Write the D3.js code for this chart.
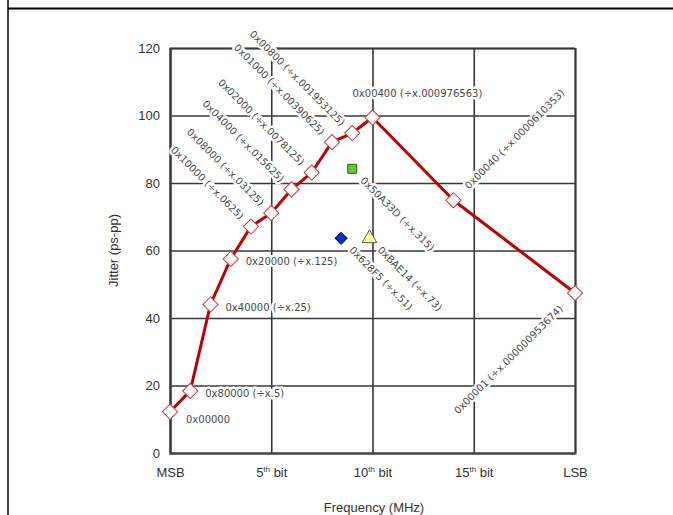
<!DOCTYPE html>
<html>
<head>
<meta charset="utf-8">
<script src="https://cdn.jsdelivr.net/npm/d3@7"></script>
<style>
  body { margin: 0; background: #fff; }
  svg { display: block; }
</style>
</head>
<body>
<div id="chart"></div>
<script>
// bit position (0 = MSB, 20 = LSB) and measured jitter for the divider sweep
const bits = [0, 1, 2, 3, 4, 5, 6, 7, 8, 9, 10, 14, 20];
const jitter = [12.2, 18.4, 44, 57.5, 67.1, 71.1, 78.1, 83.1, 92.1, 94.8, 99.4, 74.9, 47.4];
const codes = ["0x00000", "0x80000 (÷x.5)", "0x40000 (÷x.25)", "0x20000 (÷x.125)",
    "0x10000 (÷x.0625)", "0x08000 (÷x.03125)", "0x04000 (÷x.015625)", "0x02000 (÷x.0078125)",
    "0x01000 (÷x.00390625)", "0x00800 (÷x.001953125)", "0x00400 (÷x.000976563)",
    "0x00040 (÷x.0000610353)", "0x00001 (÷x.000000953674)"];

// the three odd divider settings plotted on their own
const extraNames = ["0x50A33D (÷x.315)", "0x628F5 (÷x.51)", "0xBAE14 (÷x.73)"];
const extraBits = [9.0, 8.45, 9.85];
const extraJitter = [84.2, 63.6, 63.6];

const xTicks = [0, 5, 10, 15, 20];
const xTickText = ["MSB", "5th bit", "10th bit", "15th bit", "LSB"];
const yTicks = [0, 20, 40, 60, 80, 100, 120];

const width = 673;
const height = 515;
const margin = { top: 48, right: 98, bottom: 64, left: 170 };

const svg = d3.select("#chart")
    .append("svg")
    .attr("width", width)
    .attr("height", height);

// page frame
svg.append("line").attr("x1", 8).attr("x2", width).attr("y1", 8.5).attr("y2", 8.5)
    .attr("stroke", "#000").attr("stroke-width", 2);
svg.append("line").attr("x1", 8).attr("x2", 8).attr("y1", 0).attr("y2", height)
    .attr("stroke", "#000").attr("stroke-width", 1.5);

const x = d3.scaleLinear()
    .domain([0, 20])
    .range([margin.left, width - margin.right]);

const y = d3.scaleLinear()
    .domain([0, 120])
    .range([height - margin.bottom + 2, margin.top]);

const innerW = x(20) - x(0);
const innerH = y(0) - y(120);

// y axis + horizontal grid
const gy = svg.append("g")
    .attr("transform", `translate(${x(0)},0)`)
    .call(d3.axisLeft(y).tickValues(yTicks).tickSize(-innerW).tickPadding(10).tickFormat(d3.format("d")));

// x axis + vertical grid
const gx = svg.append("g")
    .attr("transform", `translate(0,${y(0)})`)
    .call(d3.axisBottom(x).tickValues(xTicks).tickSize(-innerH).tickPadding(15).tickFormat(""));

[gx, gy].forEach(g => {
    g.select(".domain").attr("stroke", "#4a4a4a").attr("stroke-width", 2);
    g.selectAll(".tick line").attr("stroke", "#383838").attr("stroke-width", 1.6);
    g.selectAll(".tick text")
        .attr("font-family", "Liberation Sans, Arial, sans-serif")
        .attr("font-size", 13)
        .attr("fill", "#333");
});

// bit labels with superscript ordinals
gx.selectAll(".tick text").each(function(d, i) {
    const t = d3.select(this);
    const m = xTickText[i].match(/^(\d+)(th)(.*)$/);
    if (!m) { t.text(xTickText[i]); return; }
    t.append("tspan").text(m[1]);
    t.append("tspan").attr("font-size", 8).attr("dy", -5).text(m[2]);
    t.append("tspan").attr("dy", 5).text(m[3]);
});

// axis titles
svg.append("text")
    .attr("transform", `translate(118,${(y(0) + y(120)) / 2}) rotate(-90)`)
    .attr("text-anchor", "middle")
    .attr("font-family", "Liberation Sans, Arial, sans-serif")
    .attr("font-size", 13)
    .attr("fill", "#333")
    .text("Jitter (ps-pp)");

svg.append("text")
    .attr("x", 374)
    .attr("y", 512)
    .attr("text-anchor", "middle")
    .attr("font-family", "Liberation Sans, Arial, sans-serif")
    .attr("font-size", 13)
    .attr("fill", "#333")
    .text("Frequency (MHz)");

// point labels: how each one sits relative to its marker
function placeLabel(name, px, py) {
    if (name.startsWith("0x00000")) return { x: px + 16, y: py + 8, rot: 0, anchor: "start" };
    if (name.startsWith("0x00400")) return { x: px - 20, y: py - 24, rot: 0, anchor: "start" };
    if (name.startsWith("0x00040")) return { x: px + 13, y: py - 13, rot: -45, anchor: "start" };
    if (name.startsWith("0x00001")) return { x: px - 14, y: py + 14, rot: -45, anchor: "end" };
    if (/^0x(80000|40000|20000)/.test(name)) return { x: px + 15, y: py + 3, rot: 0, anchor: "start" };
    return { x: px - 9, y: py - 9, rot: 45, anchor: "end" };
}

const labelData = bits.map((b, i) => ({ name: codes[i], ...placeLabel(codes[i], x(b), y(jitter[i])) }))
    .concat(extraBits.map((b, i) => ({ name: extraNames[i], x: x(b) + 10, y: y(extraJitter[i]) + 10, rot: 45, anchor: "start" })));

svg.append("g")
    .selectAll("text")
    .data(labelData)
    .enter().append("text")
    .attr("transform", d => `translate(${d.x},${d.y}) rotate(${d.rot})`)
    .attr("text-anchor", d => d.anchor)
    .attr("dominant-baseline", "central")
    .attr("font-family", "DejaVu Sans, sans-serif")
    .attr("font-size", 10)
    .attr("fill", "#4a4a4a")
    .attr("stroke", "#fff")
    .attr("stroke-width", 5)
    .attr("stroke-linejoin", "round")
    .attr("paint-order", "stroke")
    .text(d => d.name);

// main sweep line
const line = d3.line()
    .x((d, i) => x(bits[i]))
    .y(d => y(d));

svg.append("path")
    .datum(jitter)
    .attr("d", line)
    .attr("fill", "none")
    .attr("stroke", "#c00000")
    .attr("stroke-width", 3)
    .attr("stroke-linejoin", "round");

svg.append("g")
    .selectAll("path")
    .data(jitter)
    .enter().append("path")
    .attr("d", d3.symbol(d3.symbolSquare, 115))
    .attr("transform", (d, i) => `translate(${x(bits[i])},${y(d)}) rotate(45)`)
    .attr("fill", "#fff")
    .attr("stroke", "#d03a3a")
    .attr("stroke-width", 1);

// odd-divider markers
const extraStyle = [
    { sym: d3.symbolSquare, size: 80, rot: 0, fill: "#5ccc2e", stroke: "#2a5a14" },
    { sym: d3.symbolSquare, size: 72, rot: 45, fill: "#0a2fc0", stroke: "#001a70" },
    { sym: d3.symbolTriangle, size: 95, rot: 0, fill: "#ffff99", stroke: "#555" }
];

svg.append("g")
    .selectAll("path")
    .data(extraJitter)
    .enter().append("path")
    .attr("d", (d, i) => d3.symbol(extraStyle[i].sym, extraStyle[i].size)())
    .attr("transform", (d, i) => `translate(${x(extraBits[i])},${y(d)}) rotate(${extraStyle[i].rot})`)
    .attr("fill", (d, i) => extraStyle[i].fill)
    .attr("stroke", (d, i) => extraStyle[i].stroke)
    .attr("stroke-width", 1);
</script>
</body>
</html>
